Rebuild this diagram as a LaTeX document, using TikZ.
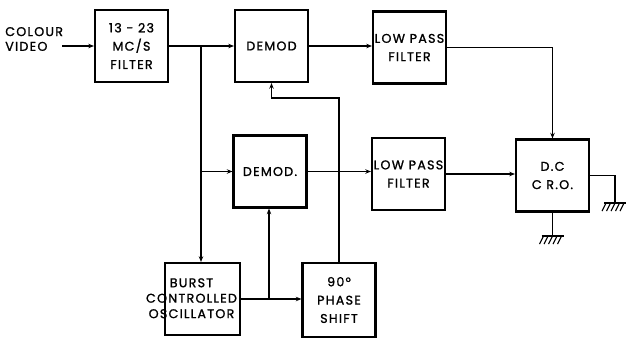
\documentclass[tikz,border=0pt]{standalone}
\usepackage{fontspec}
\setmainfont{Poppins}
\newfontfamily\blkfont{Poppins}[LetterSpace=10, FakeBold=1.2]
\usetikzlibrary{positioning,arrows.meta}

\begin{document}
\begin{tikzpicture}[
  x=0.025cm, y=-0.025cm,
  font=\blkfont\fontsize{9}{13}\selectfont,
  blk/.style={rectangle, draw, line width=1.5pt, align=center,
              minimum width=1.825cm, minimum height=1.8cm, inner sep=0pt},
  arr/.style={-{Stealth[length=4pt,width=3.2pt]}, line width=1.3pt},
  wire/.style={line width=1.3pt},
  lbl/.style={align=left, inner sep=0pt, font=\blkfont\fontsize{9}{10.5}\selectfont},
  gnd/.pic={
    \draw[wire] (-11,0) -- (11,0);
    \foreach \i in {-9,-4.5,0,4.5,9}
      \draw[line width=0.8pt] (\i,0) -- ++(-4,8);
  }
]
\fill[white] (0,0) rectangle (626,338);
\useasboundingbox (0,0) rectangle (626,338);

\node[lbl, anchor=west] (vid) at (5,39) {COLOUR\\VIDEO};
\coordinate (vin) at (62,46);

\node[blk] (filt) at (131.5,46) {13 - 23\\MC/S\\FILTER};
\node[blk] (dem1) at (271.5,46) {DEMOD};
\node[blk] (lpf1) at (409.5,47.5) {LOW PASS\\FILTER};

\node[blk] (dem2) at (270,171.5) {DEMOD.};
\node[blk] (lpf2) at (408.5,174) {LOW PASS\\FILTER};
\node[blk] (cro) at (552.5,175.5) {D.C\\C R.O.};

\node[blk, minimum width=1.875cm, align=none] (burst) at (202.5,299)
  {\hspace*{-0.55cm}\begin{tabular}{@{}c@{}}BURST\\[-2pt]CONTROLLED\\[-2pt]OSCILLATOR\end{tabular}};
\node[blk, minimum height=1.85cm] (phase) at (339,300) {90°\\PHASE\\SHIFT};

%% junctions and earth points
\coordinate (j1) at (201,46);
\coordinate (j2) at (269,299);
\coordinate (j3) at (271.5,98);
\coordinate (g1) at (615,203);
\coordinate (g2) at (552.5,236);

\draw[arr] (vin) -- (filt.west);
\draw[wire] (filt.east) -- (j1);
\draw[arr] (j1) -- (dem1.west);
\draw[arr] (j1) |- (dem2.west);
\draw[arr] (j1) -- (j1 |- burst.north);

\draw[arr] (dem1.east) -- (dem1.east -| lpf1.west);
\draw[arr] (lpf1.east) -| (cro.north);
\draw[arr] (dem2.east) -- (dem2.east -| lpf2.west);
\draw[arr] (lpf2.east) -- (lpf2.east -| cro.west);

\draw[arr] (burst.east) -- (burst.east -| phase.west);
\draw[arr] (j2) -- (j2 |- dem2.south);
\draw[arr] (phase.north) |- (j3) -- (dem1.south);

\draw[wire] (cro.east) -| (g1);
\draw[wire] (cro.south) -- (g2);
\pic at (g1) {gnd};
\pic at (g2) {gnd};

\end{tikzpicture}
\end{document}
